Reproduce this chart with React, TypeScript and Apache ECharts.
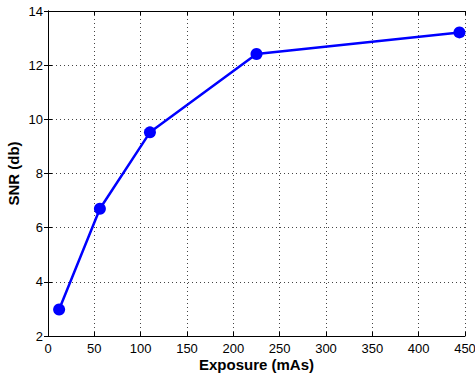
import React, { useEffect, useRef } from "react";
import * as echarts from "echarts";

const exposure = [12, 56, 110, 225, 444];
const snr = [2.98, 6.7, 9.52, 12.41, 13.21];

const xTitle = "Exposure (mAs)";
const yTitle = "SNR (db)";

export default function App() {
  const ref = useRef<HTMLDivElement>(null);
  useEffect(() => {
    document.body.style.margin = "0";
    const chart = echarts.init(ref.current!, null, { renderer: "svg" });
    const font = "Liberation Sans, Arial, Helvetica, sans-serif";
    const gridLine = { show: true, lineStyle: { color: "#444", type: [1, 3] as any, width: 1 } };
    const axisLine = { show: true, lineStyle: { color: "#000", width: 1 } };
    const tick = { show: true, inside: true, length: 4, lineStyle: { color: "#000" } };
    chart.setOption({
      animation: false,
      backgroundColor: "#fff",
      grid: { left: 48, right: 10, top: 11, bottom: 37, containLabel: false, outerBoundsMode: "none" } as any,
      xAxis: [
        {
          type: "value",
          min: 0,
          max: 450,
          interval: 50,
          position: "bottom",
          name: xTitle,
          nameLocation: "middle",
          nameGap: 21,
          nameMoveOverlap: false,
          nameTextStyle: { fontFamily: font, fontWeight: "bold", fontSize: 15, color: "#000" },
          axisLine,
          axisTick: tick,
          axisLabel: { fontFamily: font, fontSize: 13, color: "#000", margin: 6 },
          splitLine: gridLine,
        } as any,
        {
          type: "value",
          min: 0,
          max: 450,
          interval: 50,
          position: "top",
          axisLine,
          axisTick: tick,
          axisLabel: { show: false },
          splitLine: { show: false },
        },
      ],
      yAxis: [
        {
          type: "value",
          min: 2,
          max: 14,
          interval: 2,
          position: "left",
          name: yTitle,
          nameLocation: "middle",
          nameGap: 27,
          nameMoveOverlap: false,
          nameTextStyle: { fontFamily: font, fontWeight: "bold", fontSize: 15, color: "#000" },
          axisLine,
          axisTick: tick,
          axisLabel: { fontFamily: font, fontSize: 13, color: "#000", margin: 5 },
          splitLine: gridLine,
        } as any,
        {
          type: "value",
          min: 2,
          max: 14,
          interval: 2,
          position: "right",
          axisLine,
          axisTick: tick,
          axisLabel: { show: false },
          splitLine: { show: false },
        },
      ],
      series: [
        {
          type: "line",
          data: exposure.map((x, i) => [x, snr[i]]),
          symbol: "circle",
          symbolSize: 12,
          lineStyle: { color: "#0000ff", width: 2.5 },
          itemStyle: { color: "#0000ff" },
        },
      ],
    });
    return () => chart.dispose();
  }, []);
  return <div ref={ref} style={{ width: 475, height: 373 }} />;
}
